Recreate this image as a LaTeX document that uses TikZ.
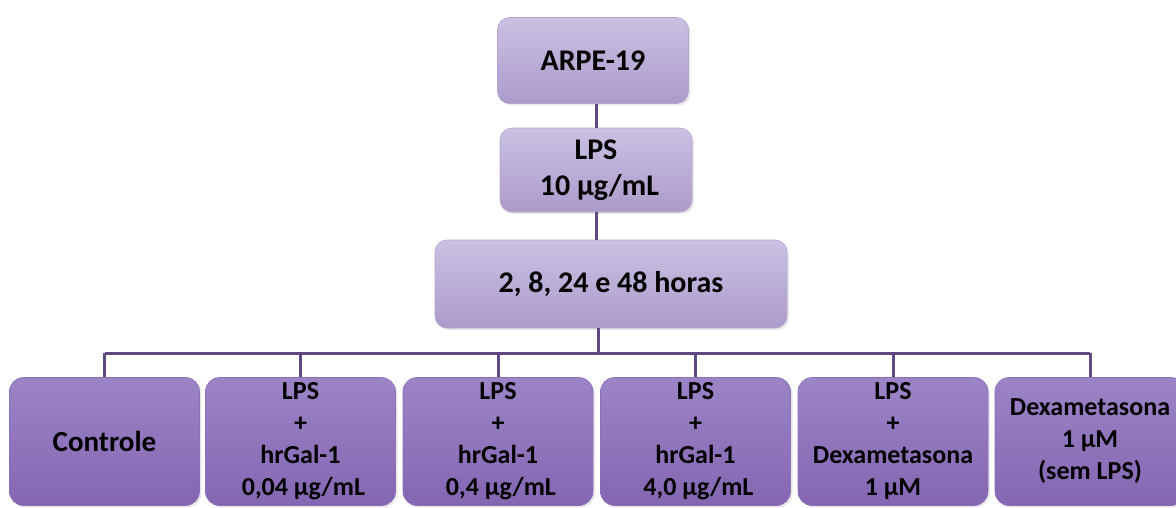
\documentclass[tikz,border=0pt]{standalone}
\usepackage{fontspec}
\setmainfont{Carlito}
\usetikzlibrary{shadows}

\definecolor{lavtop}{HTML}{CBC1E3}
\definecolor{lavbot}{HTML}{AB9BCB}
\definecolor{lavedge}{HTML}{B3A6D0}
\definecolor{violtop}{HTML}{9C84C6}
\definecolor{violbot}{HTML}{8466B2}
\definecolor{violedge}{HTML}{8A70B8}
\definecolor{linkcol}{HTML}{5E4A80}

\begin{document}
\begin{tikzpicture}[
	x = 1pt,
	y = -1pt,
	link/.style = {
		draw = linkcol,
		line width = 3pt
	},
	topbox/.style = {
		rounded corners = 12pt,
		top color = lavtop,
		bottom color = lavbot,
		draw = lavedge,
		line width = 0.6pt,
		inner sep = 0pt,
		align = center,
		minimum height = 86pt,
		font = \fontsize{30}{36}\selectfont\bfseries,
		drop shadow = {opacity = 0.18, shadow xshift = 2pt, shadow yshift = -2pt}
	},
	groupbox/.style = {
		rounded corners = 14pt,
		top color = violtop,
		bottom color = violbot,
		draw = violedge,
		line width = 0.6pt,
		inner sep = 0pt,
		align = center,
		minimum width = 190pt,
		minimum height = 128pt,
		font = \fontsize{26}{32}\selectfont\bfseries,
		drop shadow = {opacity = 0.18, shadow xshift = 2pt, shadow yshift = -2pt}
	}
	]
	\useasboundingbox (0,0) rectangle (1176,507);

	\node[topbox, minimum width = 191pt] (cells) at (593,60.5) {ARPE-19};
	\node[topbox, minimum width = 192pt, minimum height = 84pt] (lps) at (596,170) {LPS\\\ 10 µg/mL};
	\node[topbox, minimum width = 352pt, minimum height = 88pt] (time) at (611,284) {2, 8, 24 e 48 horas};

	\node[groupbox, font = \fontsize{29}{35}\selectfont\bfseries] (ctrl) at (104.5,441.5) {Controle};
	\node[groupbox] (gal1) at (300.5,441.5) {LPS\\+\\hrGal-1\\\ 0,04 µg/mL};
	\node[groupbox] (gal2) at (498,441.5) {LPS\\+\\hrGal-1\\\ 0,4 µg/mL};
	\node[groupbox] (gal3) at (695.5,441.5) {LPS\\+\\hrGal-1\\\ 4,0 µg/mL};
	\node[groupbox] (dexlps) at (893,441.5) {LPS\\+\\Dexametasona\\1 µM};
	\node[groupbox] (dex) at (1090,441.5) {Dexametasona\\1 µM\\(sem LPS)};

	\coordinate (bus) at (598,353);
	\draw[link] (cells.south -| lps.north) -- (lps.north);
	\draw[link] (lps.south) -- (lps.south |- time.north);
	\draw[link] (time.south -| bus) -- (bus);
	\draw[link] (ctrl.north |- bus) -- (dex.north |- bus);
	\foreach \grp in {ctrl,gal1,gal2,gal3,dexlps,dex}
		\draw[link] (\grp.north) -- (\grp.north |- bus);
\end{tikzpicture}
\end{document}
